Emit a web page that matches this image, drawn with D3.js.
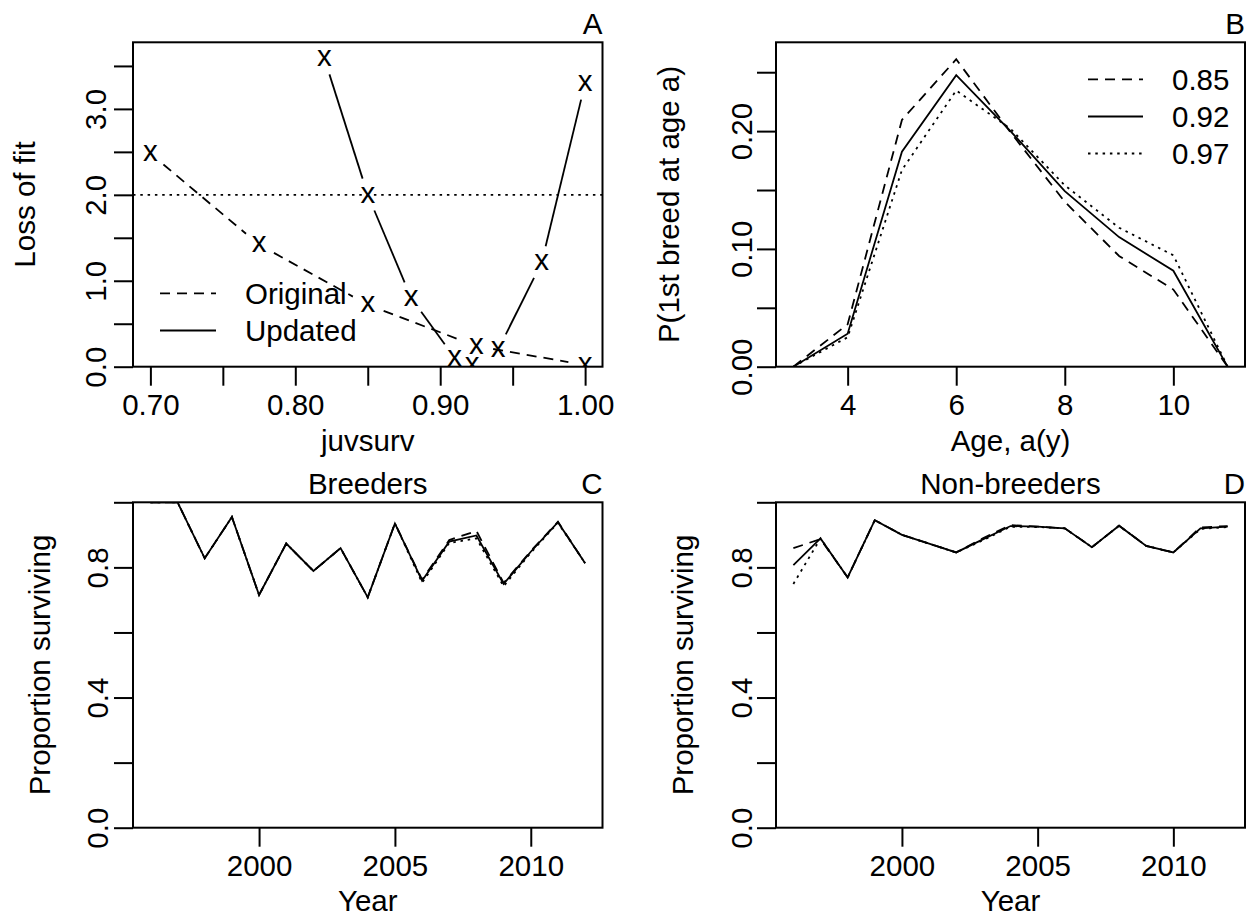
<!DOCTYPE html>
<html>
<head>
<meta charset="utf-8">
<script src="https://cdn.jsdelivr.net/npm/d3@7"></script>
<style>
  body { margin: 0; background: #fff; }
  svg { display: block; font-family: "Liberation Sans", Arial, Helvetica, sans-serif; }
</style>
</head>
<body>
<svg id="chart" width="1247" height="917"></svg>
<script>
// Panel A: loss of fit against juvenile survival
const aOrigX = [0.70, 0.775, 0.85, 0.925, 1.00]
const aOrigY = [2.48, 1.42, 0.72, 0.24, 0.02]
const aUpdX = [0.82, 0.85, 0.88, 0.91, 0.922, 0.94, 0.97, 1.00]
const aUpdY = [3.59, 2.00, 0.80, 0.10, 0.02, 0.20, 1.21, 3.30]
const aCutoff = 2.0
const aXTicks = [0.70, 0.75, 0.80, 0.85, 0.90, 0.95, 1.00]
const aXTickLabels = ['0.70', '', '0.80', '', '0.90', '', '1.00']
const aYTicks = [0, 0.5, 1.0, 1.5, 2.0, 2.5, 3.0, 3.5]
const aYTickLabels = ['0.0', '', '1.0', '', '2.0', '', '3.0', '']
const aLegend = ['Original', 'Updated']

// Panel B: probability of first breeding at age a, for three juvsurv values
const ages = [3, 4, 5, 6, 7, 8, 9, 10, 11]
const bJuv085 = [0, 0.036, 0.2095, 0.261, 0.199, 0.140, 0.094, 0.0655, 0]
const bJuv092 = [0, 0.028, 0.1825, 0.2475, 0.200, 0.149, 0.110, 0.0815, 0]
const bJuv097 = [0, 0.025, 0.167, 0.2345, 0.202, 0.154, 0.118, 0.0946, 0]
const bLegend = ['0.85', '0.92', '0.97']
const bXTicks = [4, 6, 8, 10]
const bXTickLabels = ['4', '6', '8', '10']
const bYTicks = [0, 0.05, 0.10, 0.15, 0.20, 0.25]
const bYTickLabels = ['0.00', '', '0.10', '', '0.20', '']

// Panels C and D: yearly survival
const years = [1996, 1997, 1998, 1999, 2000, 2001, 2002, 2003, 2004, 2005, 2006, 2007, 2008, 2009, 2010, 2011, 2012]
const breed085 = [1.0, 1.0, 0.828, 0.955, 0.715, 0.873, 0.789, 0.859, 0.708, 0.935, 0.762, 0.884, 0.912, 0.752, 0.850, 0.940, 0.813]
const breed092 = [1.0, 1.0, 0.828, 0.955, 0.715, 0.873, 0.789, 0.859, 0.708, 0.935, 0.759, 0.879, 0.898, 0.749, 0.848, 0.939, 0.813]
const breed097 = [1.0, 1.0, 0.828, 0.955, 0.715, 0.873, 0.789, 0.859, 0.708, 0.935, 0.753, 0.875, 0.889, 0.742, 0.845, 0.937, 0.813]
const nonb085 = [0.859, 0.887, 0.769, 0.945, 0.900, 0.873, 0.846, 0.890, 0.930, 0.925, 0.920, 0.862, 0.928, 0.866, 0.846, 0.923, 0.927]
const nonb092 = [0.807, 0.889, 0.769, 0.945, 0.900, 0.873, 0.846, 0.887, 0.927, 0.925, 0.920, 0.862, 0.928, 0.866, 0.846, 0.920, 0.925]
const nonb097 = [0.749, 0.889, 0.769, 0.945, 0.900, 0.873, 0.846, 0.884, 0.925, 0.924, 0.920, 0.862, 0.928, 0.866, 0.846, 0.918, 0.924]
const yearTicks = [2000, 2005, 2010]
const yearTickLabels = ['2000', '2005', '2010']
const survTicks = [0, 0.2, 0.4, 0.6, 0.8, 1.0]
const survTickLabels = ['0.0', '', '0.4', '', '0.8', '']

const FONT = 29.5
const TICK = 19
const DASH = '10,7'
const DOT = '2.5,4.8'

const svg = d3.select('#chart')

// Draws the box, axes and titles of one panel and returns its scales.
function panel(o) {
  const x = d3.scaleLinear().domain(o.xDomain).range([o.left, o.right])
  const y = d3.scaleLinear().domain(o.yDomain).range([o.bottom, o.top])
  const g = svg.append('g')

  const xa = g.append('g')
    .attr('transform', `translate(0,${o.bottom})`)
    .call(d3.axisBottom(x).tickValues(o.xTicks).tickSize(TICK).tickFormat((d, i) => o.xLabels[i]))
  const ya = g.append('g')
    .attr('transform', `translate(${o.left},0)`)
    .call(d3.axisLeft(y).tickValues(o.yTicks).tickSize(TICK).tickFormat((d, i) => o.yLabels[i]))

  for (const a of [xa, ya]) {
    a.select('.domain').remove()
    a.attr('font-family', null).attr('font-size', FONT)
    a.selectAll('line').attr('stroke', '#000').attr('stroke-width', 2)
    a.selectAll('text').attr('fill', '#000')
  }
  xa.selectAll('text').attr('y', 48).attr('dy', 0)
  ya.selectAll('text')
    .attr('x', 0).attr('y', 0).attr('dy', 0)
    .attr('text-anchor', 'middle')
    .attr('transform', `translate(${-o.yLabelGap},0) rotate(-90)`)

  g.append('rect')
    .attr('x', o.left).attr('y', o.top)
    .attr('width', o.right - o.left).attr('height', o.bottom - o.top)
    .attr('fill', 'none').attr('stroke', '#000').attr('stroke-width', 2)

  const cx = (o.left + o.right) / 2
  const cy = (o.top + o.bottom) / 2
  g.append('text').attr('x', cx).attr('y', o.bottom + o.xTitleGap)
    .attr('text-anchor', 'middle').attr('font-size', FONT).text(o.xTitle)
  g.append('text')
    .attr('transform', `translate(${o.yTitleX},${cy}) rotate(-90)`)
    .attr('text-anchor', 'middle').attr('font-size', FONT).text(o.yTitle)
  g.append('text').attr('x', o.right).attr('y', o.top - 8)
    .attr('text-anchor', 'end').attr('font-size', FONT).text(o.letter)
  if (o.main) {
    g.append('text').attr('x', cx).attr('y', o.top - 8)
      .attr('text-anchor', 'middle').attr('font-size', FONT).text(o.main)
  }

  const clipId = 'clip-' + o.letter
  svg.append('clipPath').attr('id', clipId).append('rect')
    .attr('x', o.left).attr('y', o.top)
    .attr('width', o.right - o.left).attr('height', o.bottom - o.top)
  const plot = svg.append('g').attr('clip-path', `url(#${clipId})`)
  return { x, y, plot }
}

function drawLine(p, xs, ys, dash) {
  p.plot.append('path')
    .datum(xs.map((v, i) => [v, ys[i]]))
    .attr('d', d3.line().x(d => p.x(d[0])).y(d => p.y(d[1])))
    .attr('fill', 'none').attr('stroke', '#000').attr('stroke-width', 1.8)
    .attr('stroke-dasharray', dash)
}

// R type="b": points as "x" with line segments stopping short of each point
function drawBoth(p, xs, ys, dash) {
  const gap = 17
  for (let i = 0; i < xs.length - 1; i++) {
    const x0 = p.x(xs[i]), y0 = p.y(ys[i])
    const x1 = p.x(xs[i + 1]), y1 = p.y(ys[i + 1])
    const d = Math.hypot(x1 - x0, y1 - y0)
    if (d <= 2 * gap) continue
    const ux = (x1 - x0) / d, uy = (y1 - y0) / d
    p.plot.append('line')
      .attr('x1', x0 + ux * gap).attr('y1', y0 + uy * gap)
      .attr('x2', x1 - ux * gap).attr('y2', y1 - uy * gap)
      .attr('stroke', '#000').attr('stroke-width', 1.8)
      .attr('stroke-dasharray', dash)
  }
  p.plot.selectAll(null)
    .data(xs.map((v, i) => [v, ys[i]]))
    .join('text')
    .attr('x', d => p.x(d[0])).attr('y', d => p.y(d[1]))
    .attr('dy', '0.26em')
    .attr('text-anchor', 'middle').attr('font-size', FONT)
    .text('x')
}

function legend(items, x0, x1, xText, ys) {
  items.forEach((it, i) => {
    svg.append('line')
      .attr('x1', x0).attr('x2', x1).attr('y1', ys[i]).attr('y2', ys[i])
      .attr('stroke', '#000').attr('stroke-width', 1.8)
      .attr('stroke-dasharray', it.dash)
    svg.append('text').attr('x', xText).attr('y', ys[i] + 10.5)
      .attr('font-size', FONT).text(it.label)
  })
}

// ---- A ----
const pa = panel({
  letter: 'A', left: 133, right: 602.5, top: 42.3, bottom: 366.7,
  xDomain: [0.688, 1.012], yDomain: [0, 3.775],
  xTicks: aXTicks, xLabels: aXTickLabels, yTicks: aYTicks, yLabels: aYTickLabels,
  yLabelGap: 27, xTitle: 'juvsurv', yTitle: 'Loss of fit', xTitleGap: 84, yTitleX: 35
})
pa.plot.append('line')
  .attr('x1', pa.x.range()[0]).attr('x2', pa.x.range()[1])
  .attr('y1', pa.y(aCutoff)).attr('y2', pa.y(aCutoff))
  .attr('stroke', '#000').attr('stroke-width', 1.8).attr('stroke-dasharray', DOT)
drawBoth(pa, aOrigX, aOrigY, DASH)
drawBoth(pa, aUpdX, aUpdY, null)
legend([{ label: aLegend[0], dash: DASH }, { label: aLegend[1], dash: null }], 160, 216, 245, [293.3, 330.5])

// ---- B ----
const pb = panel({
  letter: 'B', left: 776, right: 1245, top: 42.3, bottom: 366.7,
  xDomain: [2.68, 11.32], yDomain: [0, 0.2754],
  xTicks: bXTicks, xLabels: bXTickLabels, yTicks: bYTicks, yLabels: bYTickLabels,
  yLabelGap: 24, xTitle: 'Age, a(y)', yTitle: 'P(1st breed at age a)', xTitleGap: 84, yTitleX: 679
})
drawLine(pb, ages, bJuv085, DASH)
drawLine(pb, ages, bJuv092, null)
drawLine(pb, ages, bJuv097, DOT)
legend([{ label: bLegend[0], dash: DASH }, { label: bLegend[1], dash: null }, { label: bLegend[2], dash: DOT }],
  1088, 1143, 1172, [79.3, 116.5, 153.5])

// ---- C ----
const pc = panel({
  letter: 'C', main: 'Breeders', left: 133, right: 602.5, top: 502.3, bottom: 827.7,
  xDomain: [1995.36, 2012.64], yDomain: [0, 1],
  xTicks: yearTicks, xLabels: yearTickLabels, yTicks: survTicks, yLabels: survTickLabels,
  yLabelGap: 25, xTitle: 'Year', yTitle: 'Proportion surviving', xTitleGap: 83, yTitleX: 50
})
drawLine(pc, years, breed085, DASH)
drawLine(pc, years, breed097, DOT)
drawLine(pc, years, breed092, null)

// ---- D ----
const pd = panel({
  letter: 'D', main: 'Non-breeders', left: 776, right: 1245, top: 502.3, bottom: 827.7,
  xDomain: [1995.36, 2012.64], yDomain: [0, 1],
  xTicks: yearTicks, xLabels: yearTickLabels, yTicks: survTicks, yLabels: survTickLabels,
  yLabelGap: 24, xTitle: 'Year', yTitle: 'Proportion surviving', xTitleGap: 83, yTitleX: 693
})
drawLine(pd, years, nonb085, DASH)
drawLine(pd, years, nonb097, DOT)
drawLine(pd, years, nonb092, null)
</script>
</body>
</html>
